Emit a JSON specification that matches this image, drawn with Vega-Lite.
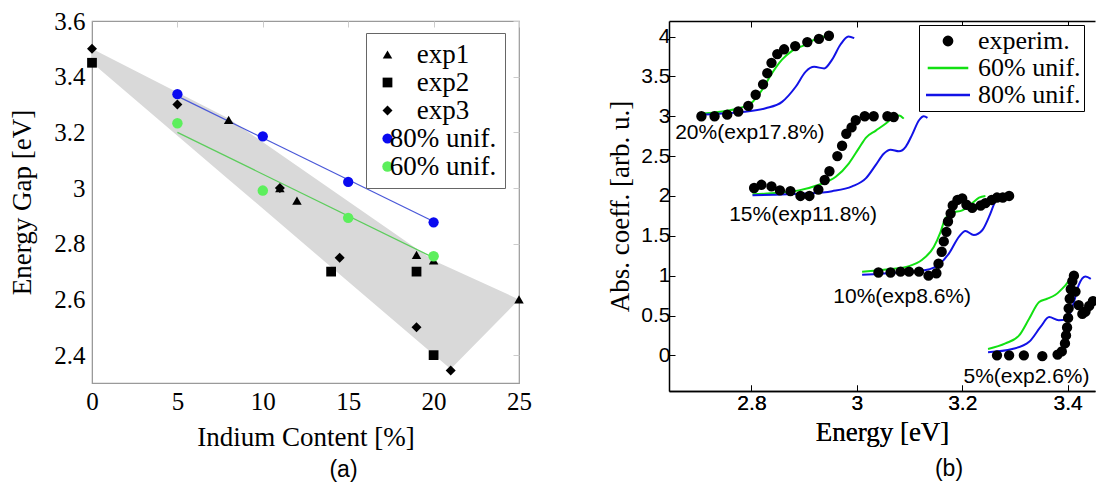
{
  "$schema": "https://vega.github.io/schema/vega-lite/v6.json",
  "background": "white",
  "padding": {"left": 8, "top": 8, "right": 0, "bottom": 0},
  "spacing": 150,
  "bounds": "flush",
  "resolve": {
    "scale": {"color": "independent", "fill": "independent", "shape": "independent", "size": "independent", "stroke": "independent"},
    "legend": {"color": "independent", "fill": "independent", "shape": "independent", "size": "independent", "stroke": "independent"}
  },
  "datasets": {
    "shade": [
      {"x": 0, "top": 3.5, "bottom": 3.45},
      {"x": 8, "top": 3.25, "bottom": 3.031},
      {"x": 20, "top": 2.74, "bottom": 2.402},
      {"x": 21, "top": 2.712, "bottom": 2.35},
      {"x": 25, "top": 2.6, "bottom": 2.6}
    ],
    "fitA": [
      {"series": "80% unif.", "x": 5, "y": 3.33},
      {"series": "80% unif.", "x": 20, "y": 2.88},
      {"series": "60% unif.", "x": 5, "y": 3.2},
      {"series": "60% unif.", "x": 20, "y": 2.75}
    ],
    "pointsA": [
      {"series": "exp3", "x": 0, "y": 3.5},
      {"series": "exp2", "x": 0, "y": 3.45},
      {"series": "exp3", "x": 5, "y": 3.3},
      {"series": "exp1", "x": 8, "y": 3.245},
      {"series": "exp3", "x": 11, "y": 3.0},
      {"series": "exp1", "x": 11, "y": 3.0},
      {"series": "exp1", "x": 12, "y": 2.955},
      {"series": "exp2", "x": 14, "y": 2.7},
      {"series": "exp3", "x": 14.5, "y": 2.75},
      {"series": "exp1", "x": 19, "y": 2.76},
      {"series": "exp2", "x": 19, "y": 2.7},
      {"series": "exp3", "x": 19, "y": 2.5},
      {"series": "exp1", "x": 20, "y": 2.74},
      {"series": "exp2", "x": 20, "y": 2.4},
      {"series": "exp3", "x": 21, "y": 2.345},
      {"series": "exp1", "x": 25, "y": 2.6},
      {"series": "80% unif.", "x": 5, "y": 3.337},
      {"series": "80% unif.", "x": 10, "y": 3.186},
      {"series": "80% unif.", "x": 15, "y": 3.022},
      {"series": "80% unif.", "x": 20, "y": 2.877},
      {"series": "60% unif.", "x": 5, "y": 3.233},
      {"series": "60% unif.", "x": 10, "y": 2.991},
      {"series": "60% unif.", "x": 15, "y": 2.893},
      {"series": "60% unif.", "x": 20, "y": 2.755}
    ],
    "curves": [
      {"group": "20%", "series": "60% unif.", "E": 2.700, "A": 3.03},
      {"group": "20%", "series": "60% unif.", "E": 2.745, "A": 3.06},
      {"group": "20%", "series": "60% unif.", "E": 2.776, "A": 3.10},
      {"group": "20%", "series": "60% unif.", "E": 2.802, "A": 3.18},
      {"group": "20%", "series": "60% unif.", "E": 2.820, "A": 3.33},
      {"group": "20%", "series": "60% unif.", "E": 2.839, "A": 3.54},
      {"group": "20%", "series": "60% unif.", "E": 2.858, "A": 3.71},
      {"group": "20%", "series": "60% unif.", "E": 2.877, "A": 3.82},
      {"group": "20%", "series": "60% unif.", "E": 2.903, "A": 3.90},
      {"group": "20%", "series": "60% unif.", "E": 2.922, "A": 3.97},
      {"group": "20%", "series": "60% unif.", "E": 2.934, "A": 4.00},
      {"group": "20%", "series": "60% unif.", "E": 2.942, "A": 3.99},
      {"group": "20%", "series": "60% unif.", "E": 2.950, "A": 3.95},
      {"group": "15%", "series": "60% unif.", "E": 2.802, "A": 2.02},
      {"group": "15%", "series": "60% unif.", "E": 2.852, "A": 2.04},
      {"group": "15%", "series": "60% unif.", "E": 2.890, "A": 2.07},
      {"group": "15%", "series": "60% unif.", "E": 2.928, "A": 2.14},
      {"group": "15%", "series": "60% unif.", "E": 2.960, "A": 2.24},
      {"group": "15%", "series": "60% unif.", "E": 2.985, "A": 2.41},
      {"group": "15%", "series": "60% unif.", "E": 3.004, "A": 2.60},
      {"group": "15%", "series": "60% unif.", "E": 3.017, "A": 2.73},
      {"group": "15%", "series": "60% unif.", "E": 3.036, "A": 2.82},
      {"group": "15%", "series": "60% unif.", "E": 3.055, "A": 2.91},
      {"group": "15%", "series": "60% unif.", "E": 3.070, "A": 2.99},
      {"group": "15%", "series": "60% unif.", "E": 3.080, "A": 3.01},
      {"group": "15%", "series": "60% unif.", "E": 3.089, "A": 2.97},
      {"group": "10%", "series": "60% unif.", "E": 3.010, "A": 1.05},
      {"group": "10%", "series": "60% unif.", "E": 3.061, "A": 1.08},
      {"group": "10%", "series": "60% unif.", "E": 3.099, "A": 1.12},
      {"group": "10%", "series": "60% unif.", "E": 3.124, "A": 1.20},
      {"group": "10%", "series": "60% unif.", "E": 3.146, "A": 1.36},
      {"group": "10%", "series": "60% unif.", "E": 3.159, "A": 1.55},
      {"group": "10%", "series": "60% unif.", "E": 3.168, "A": 1.72},
      {"group": "10%", "series": "60% unif.", "E": 3.181, "A": 1.79},
      {"group": "10%", "series": "60% unif.", "E": 3.200, "A": 1.82},
      {"group": "10%", "series": "60% unif.", "E": 3.219, "A": 1.91},
      {"group": "10%", "series": "60% unif.", "E": 3.232, "A": 1.98},
      {"group": "10%", "series": "60% unif.", "E": 3.244, "A": 2.00},
      {"group": "5%", "series": "60% unif.", "E": 3.249, "A": 0.08},
      {"group": "5%", "series": "60% unif.", "E": 3.282, "A": 0.15},
      {"group": "5%", "series": "60% unif.", "E": 3.308, "A": 0.25},
      {"group": "5%", "series": "60% unif.", "E": 3.327, "A": 0.46},
      {"group": "5%", "series": "60% unif.", "E": 3.346, "A": 0.67},
      {"group": "5%", "series": "60% unif.", "E": 3.361, "A": 0.71},
      {"group": "5%", "series": "60% unif.", "E": 3.377, "A": 0.76},
      {"group": "5%", "series": "60% unif.", "E": 3.396, "A": 0.88},
      {"group": "5%", "series": "60% unif.", "E": 3.409, "A": 0.98},
      {"group": "5%", "series": "60% unif.", "E": 3.418, "A": 0.99},
      {"group": "20%", "series": "80% unif.", "E": 2.700, "A": 3.02},
      {"group": "20%", "series": "80% unif.", "E": 2.776, "A": 3.05},
      {"group": "20%", "series": "80% unif.", "E": 2.827, "A": 3.10},
      {"group": "20%", "series": "80% unif.", "E": 2.858, "A": 3.18},
      {"group": "20%", "series": "80% unif.", "E": 2.884, "A": 3.37},
      {"group": "20%", "series": "80% unif.", "E": 2.903, "A": 3.56},
      {"group": "20%", "series": "80% unif.", "E": 2.919, "A": 3.62},
      {"group": "20%", "series": "80% unif.", "E": 2.938, "A": 3.60},
      {"group": "20%", "series": "80% unif.", "E": 2.953, "A": 3.71},
      {"group": "20%", "series": "80% unif.", "E": 2.969, "A": 3.90},
      {"group": "20%", "series": "80% unif.", "E": 2.984, "A": 4.00},
      {"group": "20%", "series": "80% unif.", "E": 2.995, "A": 3.98},
      {"group": "15%", "series": "80% unif.", "E": 2.802, "A": 2.01},
      {"group": "15%", "series": "80% unif.", "E": 2.903, "A": 2.03},
      {"group": "15%", "series": "80% unif.", "E": 2.953, "A": 2.06},
      {"group": "15%", "series": "80% unif.", "E": 2.991, "A": 2.12},
      {"group": "15%", "series": "80% unif.", "E": 3.017, "A": 2.22},
      {"group": "15%", "series": "80% unif.", "E": 3.036, "A": 2.39},
      {"group": "15%", "series": "80% unif.", "E": 3.051, "A": 2.53},
      {"group": "15%", "series": "80% unif.", "E": 3.064, "A": 2.58},
      {"group": "15%", "series": "80% unif.", "E": 3.080, "A": 2.56},
      {"group": "15%", "series": "80% unif.", "E": 3.093, "A": 2.62},
      {"group": "15%", "series": "80% unif.", "E": 3.105, "A": 2.77},
      {"group": "15%", "series": "80% unif.", "E": 3.118, "A": 2.95},
      {"group": "15%", "series": "80% unif.", "E": 3.127, "A": 3.00},
      {"group": "15%", "series": "80% unif.", "E": 3.134, "A": 2.98},
      {"group": "10%", "series": "80% unif.", "E": 3.010, "A": 1.01},
      {"group": "10%", "series": "80% unif.", "E": 3.080, "A": 1.04},
      {"group": "10%", "series": "80% unif.", "E": 3.131, "A": 1.07},
      {"group": "10%", "series": "80% unif.", "E": 3.156, "A": 1.14},
      {"group": "10%", "series": "80% unif.", "E": 3.175, "A": 1.28},
      {"group": "10%", "series": "80% unif.", "E": 3.194, "A": 1.49},
      {"group": "10%", "series": "80% unif.", "E": 3.206, "A": 1.56},
      {"group": "10%", "series": "80% unif.", "E": 3.222, "A": 1.51},
      {"group": "10%", "series": "80% unif.", "E": 3.238, "A": 1.57},
      {"group": "10%", "series": "80% unif.", "E": 3.251, "A": 1.74},
      {"group": "10%", "series": "80% unif.", "E": 3.263, "A": 1.93},
      {"group": "10%", "series": "80% unif.", "E": 3.273, "A": 1.99},
      {"group": "10%", "series": "80% unif.", "E": 3.282, "A": 1.97},
      {"group": "5%", "series": "80% unif.", "E": 3.249, "A": 0.04},
      {"group": "5%", "series": "80% unif.", "E": 3.295, "A": 0.08},
      {"group": "5%", "series": "80% unif.", "E": 3.327, "A": 0.17},
      {"group": "5%", "series": "80% unif.", "E": 3.349, "A": 0.36},
      {"group": "5%", "series": "80% unif.", "E": 3.365, "A": 0.48},
      {"group": "5%", "series": "80% unif.", "E": 3.383, "A": 0.44},
      {"group": "5%", "series": "80% unif.", "E": 3.399, "A": 0.46},
      {"group": "5%", "series": "80% unif.", "E": 3.412, "A": 0.67},
      {"group": "5%", "series": "80% unif.", "E": 3.421, "A": 0.88},
      {"group": "5%", "series": "80% unif.", "E": 3.434, "A": 0.99},
      {"group": "5%", "series": "80% unif.", "E": 3.444, "A": 0.96}
    ],
    "experim": [
      {"series": "experim.", "group": "20%", "E": 2.705, "A": 3.0},
      {"series": "experim.", "group": "20%", "E": 2.730, "A": 3.0},
      {"series": "experim.", "group": "20%", "E": 2.754, "A": 3.02},
      {"series": "experim.", "group": "20%", "E": 2.775, "A": 3.06},
      {"series": "experim.", "group": "20%", "E": 2.794, "A": 3.13},
      {"series": "experim.", "group": "20%", "E": 2.808, "A": 3.27},
      {"series": "experim.", "group": "20%", "E": 2.822, "A": 3.40},
      {"series": "experim.", "group": "20%", "E": 2.830, "A": 3.54},
      {"series": "experim.", "group": "20%", "E": 2.838, "A": 3.67},
      {"series": "experim.", "group": "20%", "E": 2.849, "A": 3.78},
      {"series": "experim.", "group": "20%", "E": 2.862, "A": 3.84},
      {"series": "experim.", "group": "20%", "E": 2.883, "A": 3.88},
      {"series": "experim.", "group": "20%", "E": 2.906, "A": 3.93},
      {"series": "experim.", "group": "20%", "E": 2.928, "A": 3.97},
      {"series": "experim.", "group": "20%", "E": 2.947, "A": 4.01},
      {"series": "experim.", "group": "15%", "E": 2.805, "A": 2.10},
      {"series": "experim.", "group": "15%", "E": 2.819, "A": 2.14},
      {"series": "experim.", "group": "15%", "E": 2.838, "A": 2.12},
      {"series": "experim.", "group": "15%", "E": 2.854, "A": 2.07},
      {"series": "experim.", "group": "15%", "E": 2.874, "A": 2.06},
      {"series": "experim.", "group": "15%", "E": 2.893, "A": 2.00},
      {"series": "experim.", "group": "15%", "E": 2.910, "A": 2.00},
      {"series": "experim.", "group": "15%", "E": 2.927, "A": 2.08},
      {"series": "experim.", "group": "15%", "E": 2.939, "A": 2.20},
      {"series": "experim.", "group": "15%", "E": 2.948, "A": 2.31},
      {"series": "experim.", "group": "15%", "E": 2.963, "A": 2.50},
      {"series": "experim.", "group": "15%", "E": 2.972, "A": 2.63},
      {"series": "experim.", "group": "15%", "E": 2.980, "A": 2.78},
      {"series": "experim.", "group": "15%", "E": 2.990, "A": 2.86},
      {"series": "experim.", "group": "15%", "E": 2.998, "A": 2.95},
      {"series": "experim.", "group": "15%", "E": 3.015, "A": 3.00},
      {"series": "experim.", "group": "15%", "E": 3.032, "A": 3.00},
      {"series": "experim.", "group": "15%", "E": 3.058, "A": 3.00},
      {"series": "experim.", "group": "15%", "E": 3.070, "A": 2.99},
      {"series": "experim.", "group": "10%", "E": 3.041, "A": 1.04},
      {"series": "experim.", "group": "10%", "E": 3.064, "A": 1.04},
      {"series": "experim.", "group": "10%", "E": 3.083, "A": 1.05},
      {"series": "experim.", "group": "10%", "E": 3.099, "A": 1.05},
      {"series": "experim.", "group": "10%", "E": 3.118, "A": 1.05},
      {"series": "experim.", "group": "10%", "E": 3.136, "A": 1.00},
      {"series": "experim.", "group": "10%", "E": 3.151, "A": 1.03},
      {"series": "experim.", "group": "10%", "E": 3.155, "A": 1.15},
      {"series": "experim.", "group": "10%", "E": 3.161, "A": 1.30},
      {"series": "experim.", "group": "10%", "E": 3.165, "A": 1.43},
      {"series": "experim.", "group": "10%", "E": 3.170, "A": 1.55},
      {"series": "experim.", "group": "10%", "E": 3.173, "A": 1.68},
      {"series": "experim.", "group": "10%", "E": 3.178, "A": 1.78},
      {"series": "experim.", "group": "10%", "E": 3.182, "A": 1.88},
      {"series": "experim.", "group": "10%", "E": 3.191, "A": 1.95},
      {"series": "experim.", "group": "10%", "E": 3.200, "A": 1.97},
      {"series": "experim.", "group": "10%", "E": 3.208, "A": 1.89},
      {"series": "experim.", "group": "10%", "E": 3.219, "A": 1.85},
      {"series": "experim.", "group": "10%", "E": 3.235, "A": 1.88},
      {"series": "experim.", "group": "10%", "E": 3.244, "A": 1.91},
      {"series": "experim.", "group": "10%", "E": 3.256, "A": 1.95},
      {"series": "experim.", "group": "10%", "E": 3.266, "A": 1.98},
      {"series": "experim.", "group": "10%", "E": 3.277, "A": 1.98},
      {"series": "experim.", "group": "10%", "E": 3.289, "A": 2.00},
      {"series": "experim.", "group": "5%", "E": 3.266, "A": 0.0},
      {"series": "experim.", "group": "5%", "E": 3.289, "A": 0.0},
      {"series": "experim.", "group": "5%", "E": 3.317, "A": 0.0},
      {"series": "experim.", "group": "5%", "E": 3.352, "A": -0.01},
      {"series": "experim.", "group": "5%", "E": 3.381, "A": 0.01},
      {"series": "experim.", "group": "5%", "E": 3.389, "A": 0.05},
      {"series": "experim.", "group": "5%", "E": 3.395, "A": 0.15},
      {"series": "experim.", "group": "5%", "E": 3.397, "A": 0.25},
      {"series": "experim.", "group": "5%", "E": 3.399, "A": 0.35},
      {"series": "experim.", "group": "5%", "E": 3.401, "A": 0.47},
      {"series": "experim.", "group": "5%", "E": 3.402, "A": 0.59},
      {"series": "experim.", "group": "5%", "E": 3.404, "A": 0.71},
      {"series": "experim.", "group": "5%", "E": 3.406, "A": 0.83},
      {"series": "experim.", "group": "5%", "E": 3.409, "A": 0.93},
      {"series": "experim.", "group": "5%", "E": 3.412, "A": 1.00},
      {"series": "experim.", "group": "5%", "E": 3.415, "A": 0.80},
      {"series": "experim.", "group": "5%", "E": 3.421, "A": 0.63},
      {"series": "experim.", "group": "5%", "E": 3.428, "A": 0.52},
      {"series": "experim.", "group": "5%", "E": 3.434, "A": 0.55},
      {"series": "experim.", "group": "5%", "E": 3.441, "A": 0.62},
      {"series": "experim.", "group": "5%", "E": 3.448, "A": 0.68}
    ],
    "labelsB": [
      {"label": "20%(exp17.8%)", "E": 2.797, "A": 2.785},
      {"label": "15%(exp11.8%)", "E": 2.898, "A": 1.76},
      {"label": "10%(exp8.6%)", "E": 3.086, "A": 0.734},
      {"label": "5%(exp2.6%)", "E": 3.322, "A": -0.271}
    ]
  },
  "hconcat": [
    {
      "width": 427,
      "height": 362,
      "view": {"stroke": "#9a9a9a", "strokeWidth": 1.2},
      "title": {"text": "(a)", "orient": "bottom", "anchor": "middle", "frame": "group", "font": "Liberation Sans", "fontSize": 23, "fontWeight": "normal", "color": "black", "offset": 9, "dx": 38},
      "layer": [
        {
          "data": {"name": "shade"},
          "mark": {"type": "area", "color": "#d9d9d9", "opacity": 1},
          "encoding": {
            "x": {"field": "x", "type": "quantitative", "scale": {"domain": [0, 25], "nice": false, "zero": false},
              "axis": {"orient": "bottom", "values": [0, 5, 10, 15, 20, 25], "format": "~g", "labelFlush": false, "labelOverlap": false, "title": "Indium Content [%]", "grid": false, "domainColor": "#9a9a9a", "ticks": false, "labelPadding": 6, "labelFont": "Liberation Serif", "labelFontSize": 25, "labelColor": "black", "titleFont": "Liberation Serif", "titleFontSize": 27, "titleFontWeight": "normal", "titleColor": "black", "titlePadding": 10}},
            "y": {"field": "top", "type": "quantitative", "scale": {"domain": [2.3, 3.6], "nice": false, "zero": false},
              "axis": {"orient": "left", "values": [2.4, 2.6, 2.8, 3, 3.2, 3.4, 3.6], "format": "~g", "labelOverlap": false, "title": "Energy Gap [eV]", "grid": false, "domainColor": "#9a9a9a", "ticks": false, "labelPadding": 7, "labelFont": "Liberation Serif", "labelFontSize": 25, "labelColor": "black", "titleFont": "Liberation Serif", "titleFontSize": 27, "titleFontWeight": "normal", "titleColor": "black", "titlePadding": 17}},
            "y2": {"field": "bottom"}
          }
        },
        {
          "data": {"name": "fitA"},
          "mark": {"type": "line", "strokeWidth": 1.3},
          "encoding": {
            "x": {"field": "x", "type": "quantitative", "axis": {"orient": "top", "values": [0, 5, 10, 15, 20, 25], "labels": false, "title": null, "domain": false, "grid": false, "tickColor": "#cccccc", "tickSize": -6}},
            "y": {"field": "y", "type": "quantitative", "axis": {"orient": "right", "values": [2.4, 2.6, 2.8, 3, 3.2, 3.4, 3.6], "labels": false, "title": null, "domain": false, "grid": false, "tickColor": "#cccccc", "tickSize": -6}},
            "stroke": {"field": "series", "type": "nominal", "scale": {"domain": ["80% unif.", "60% unif."], "range": ["#4a58d8", "#5ccd5c"]}, "legend": null}
          }
        },
        {
          "data": {"name": "pointsA"},
          "mark": {"type": "point", "filled": true, "opacity": 1},
          "encoding": {
            "x": {"field": "x", "type": "quantitative", "axis": null},
            "y": {"field": "y", "type": "quantitative", "axis": null},
            "color": {"field": "series", "type": "nominal",
              "scale": {"domain": ["exp1", "exp2", "exp3", "80% unif.", "60% unif."], "range": ["#000000", "#000000", "#000000", "#0a0af0", "#5cef5c"]},
              "legend": {"title": null, "orient": "none", "legendX": 274, "legendY": 12, "direction": "vertical", "strokeColor": "#666666", "fillColor": "white", "padding": 8, "labelFont": "Liberation Serif", "labelFontSize": 27, "labelColor": "black", "rowPadding": 0, "labelAlign": "center", "labelOffset": 42}},
            "shape": {"field": "series", "type": "nominal", "scale": {"domain": ["exp1", "exp2", "exp3", "80% unif.", "60% unif."], "range": ["triangle-up", "square", "diamond", "circle", "circle"]}},
            "size": {"field": "series", "type": "nominal", "scale": {"domain": ["exp1", "exp2", "exp3", "80% unif.", "60% unif."], "range": [90, 110, 60, 240, 240]}}
          }
        }
      ]
    },
    {
      "width": 426,
      "height": 370,
      "view": {"stroke": null},
      "title": {"text": "(b)", "orient": "bottom", "anchor": "middle", "frame": "group", "font": "Liberation Sans", "fontSize": 23, "fontWeight": "normal", "color": "black", "offset": 13, "dx": 67},
      "layer": [
        {
          "data": {"name": "curves"},
          "mark": {"type": "line", "strokeWidth": 2, "interpolate": "monotone"},
          "encoding": {
            "x": {"field": "E", "type": "quantitative", "scale": {"domain": [2.6435, 3.452], "nice": false, "zero": false},
              "axis": {"orient": "bottom", "values": [2.8, 3, 3.2, 3.4], "format": "~g", "labelFlush": false, "labelOverlap": false, "title": "Energy [eV]", "grid": false, "domainColor": "black", "domainWidth": 1.5, "tickColor": "black", "tickSize": -6, "labelPadding": 7, "labelFont": "Liberation Sans", "labelFontSize": 21, "labelColor": "black", "titleFont": "Liberation Serif", "titleFontSize": 27, "titleFontWeight": "normal", "titleColor": "black", "titlePadding": 6}},
            "y": {"field": "A", "type": "quantitative", "scale": {"domain": [-0.447, 4.195], "nice": false, "zero": false},
              "axis": {"orient": "left", "values": [0, 0.5, 1, 1.5, 2, 2.5, 3, 3.5, 4], "format": "~g", "labelOverlap": false, "title": "Abs. coeff. [arb. u.]", "grid": false, "domainColor": "black", "domainWidth": 1.5, "tickColor": "black", "tickSize": -6, "labelPadding": 5, "labelFont": "Liberation Sans", "labelFontSize": 21, "labelColor": "black", "titleFont": "Liberation Serif", "titleFontSize": 27, "titleFontWeight": "normal", "titleColor": "black", "titlePadding": 6}},
            "color": {"field": "series", "type": "nominal", "scale": {"domain": ["60% unif.", "80% unif."], "range": ["#12e012", "#1212e6"]}, "legend": null},
            "detail": {"field": "group", "type": "nominal"}
          }
        },
        {
          "data": {"name": "experim"},
          "mark": {"type": "point", "filled": true, "opacity": 1},
          "encoding": {
            "x": {"field": "E", "type": "quantitative", "axis": {"orient": "top", "values": [2.8, 3, 3.2, 3.4], "labels": false, "title": null, "grid": false, "domainColor": "black", "domainWidth": 1.5, "tickColor": "black", "tickSize": -6}},
            "y": {"field": "A", "type": "quantitative",
              "axis": {"orient": "left", "values": [0, 0.5, 1, 1.5, 2, 2.5, 3, 3.5, 4], "format": "~g", "labelOverlap": false, "title": "Abs. coeff. [arb. u.]", "grid": false, "domainColor": "black", "domainWidth": 1.5, "tickColor": "black", "tickSize": -6, "labelPadding": 5, "labelFont": "Liberation Sans", "labelFontSize": 21, "labelColor": "black", "titleFont": "Liberation Serif", "titleFontSize": 27, "titleFontWeight": "normal", "titleColor": "black", "titlePadding": 6}},
            "fill": {"field": "series", "type": "nominal",
              "scale": {"domain": ["experim.", "60% unif.", "80% unif."], "range": ["#000000", "#12e012", "#1212e6"]},
              "legend": {"title": null, "orient": "none", "legendX": 250, "legendY": 4, "direction": "vertical", "strokeColor": "black", "fillColor": "white", "padding": 3, "labelFont": "Liberation Serif", "labelFontSize": 26, "labelColor": "black", "rowPadding": 1, "symbolOffset": 13, "labelOffset": 17, "symbolStrokeWidth": 2.4}},
            "stroke": {"field": "series", "type": "nominal",
              "scale": {"domain": ["experim.", "60% unif.", "80% unif."], "range": ["#000000", "#12e012", "#1212e6"]},
              "legend": {"title": null, "orient": "none", "legendX": 250, "legendY": 4, "direction": "vertical", "strokeColor": "black", "fillColor": "white", "padding": 3, "labelFont": "Liberation Serif", "labelFontSize": 26, "labelColor": "black", "rowPadding": 1, "symbolOffset": 13, "labelOffset": 17, "symbolStrokeWidth": 2.4}},
            "shape": {"field": "series", "type": "nominal", "scale": {"domain": ["experim.", "60% unif.", "80% unif."], "range": ["circle", "M-4.4,0L4.4,0", "M-4.4,0L4.4,0"]}},
            "size": {"field": "series", "type": "nominal", "scale": {"domain": ["experim.", "60% unif.", "80% unif."], "range": [70, 100, 100]}}
          }
        },
        {
          "data": {"name": "labelsB"},
          "mark": {"type": "text", "font": "Liberation Sans", "fontSize": 21, "color": "black", "align": "center", "baseline": "middle"},
          "encoding": {
            "x": {"field": "E", "type": "quantitative",
              "axis": {"orient": "bottom", "values": [2.8, 3, 3.2, 3.4], "format": "~g", "labelFlush": false, "labelOverlap": false, "title": "Energy [eV]", "grid": false, "domainColor": "black", "domainWidth": 1.5, "tickColor": "black", "tickSize": -6, "labelPadding": 7, "labelFont": "Liberation Sans", "labelFontSize": 21, "labelColor": "black", "titleFont": "Liberation Serif", "titleFontSize": 27, "titleFontWeight": "normal", "titleColor": "black", "titlePadding": 6}},
            "y": {"field": "A", "type": "quantitative",
              "axis": {"orient": "left", "values": [0, 0.5, 1, 1.5, 2, 2.5, 3, 3.5, 4], "format": "~g", "labelOverlap": false, "title": "Abs. coeff. [arb. u.]", "grid": false, "domainColor": "black", "domainWidth": 1.5, "tickColor": "black", "tickSize": -6, "labelPadding": 5, "labelFont": "Liberation Sans", "labelFontSize": 21, "labelColor": "black", "titleFont": "Liberation Serif", "titleFontSize": 27, "titleFontWeight": "normal", "titleColor": "black", "titlePadding": 6}},
            "text": {"field": "label", "type": "nominal"}
          }
        }
      ]
    }
  ]
}
